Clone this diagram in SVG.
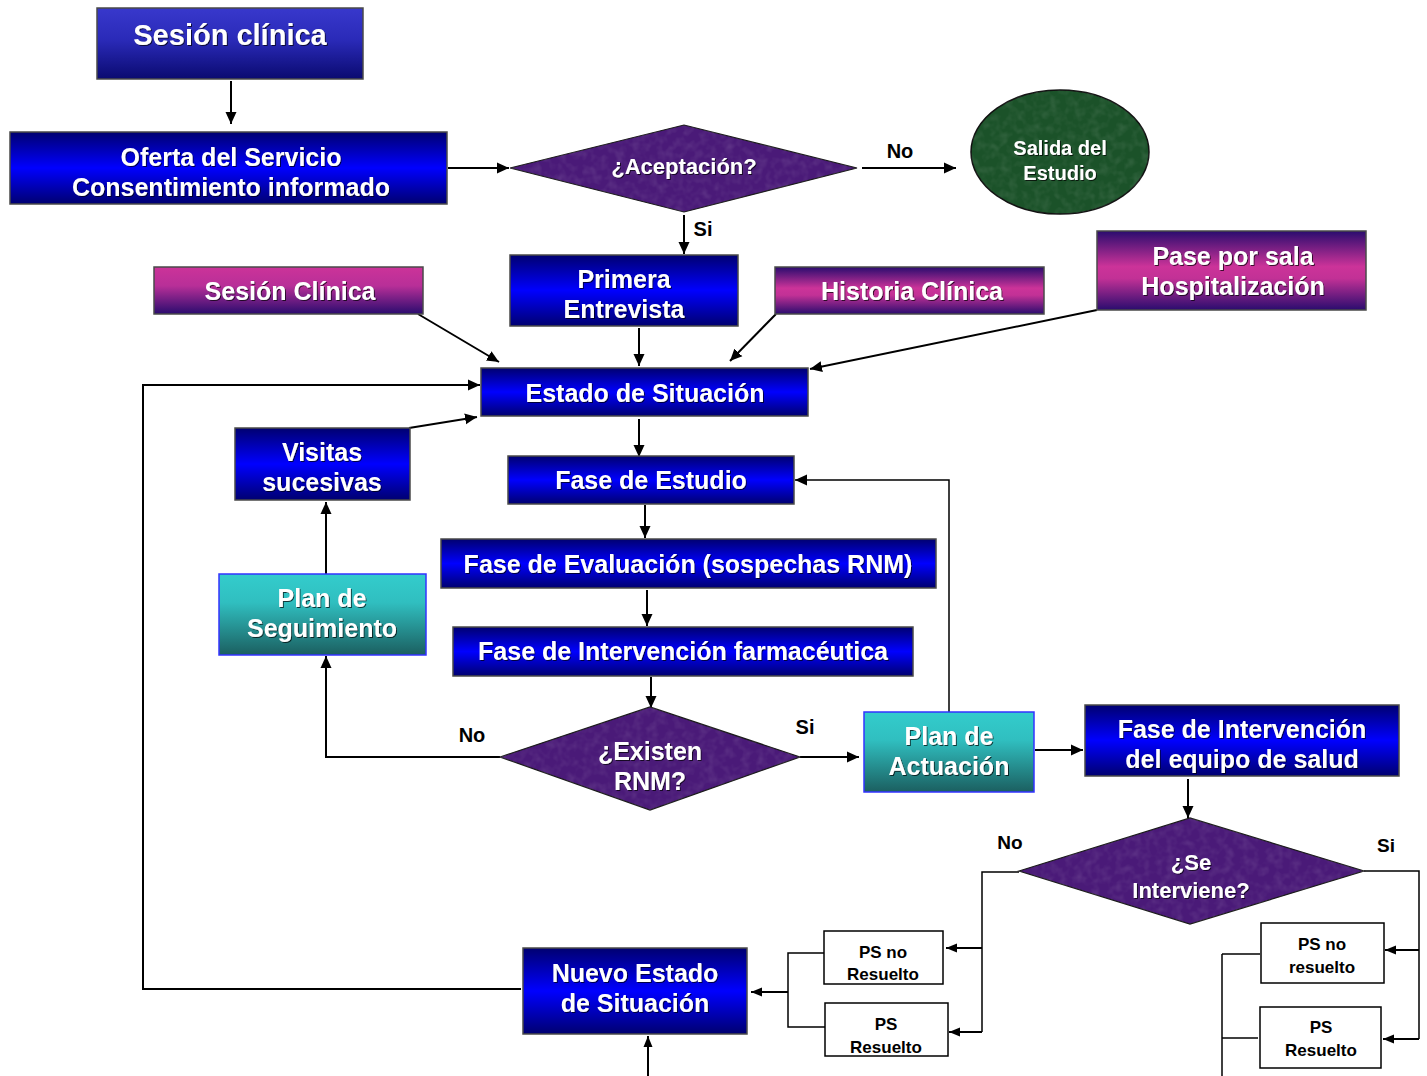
<svg xmlns="http://www.w3.org/2000/svg" width="1427" height="1076" viewBox="0 0 1427 1076">
<defs>
  <linearGradient id="gTop" x1="0" y1="0" x2="0" y2="1">
    <stop offset="0" stop-color="#3838cc"/><stop offset="0.45" stop-color="#2a2ab8"/><stop offset="1" stop-color="#0a0a70"/>
  </linearGradient>
  <linearGradient id="gBlue" x1="0" y1="0" x2="0" y2="1">
    <stop offset="0" stop-color="#000070"/><stop offset="0.5" stop-color="#0000ff"/><stop offset="1" stop-color="#000070"/>
  </linearGradient>
  <linearGradient id="gMag" x1="0" y1="0" x2="0" y2="1">
    <stop offset="0" stop-color="#2a0c6e"/><stop offset="0.45" stop-color="#cc3399"/><stop offset="0.6" stop-color="#c23196"/><stop offset="1" stop-color="#2a0c6e"/>
  </linearGradient>
  <linearGradient id="gMag2" x1="0" y1="0" x2="0" y2="1">
    <stop offset="0" stop-color="#cc3399"/><stop offset="0.4" stop-color="#b82f98"/><stop offset="1" stop-color="#2a0c6e"/>
  </linearGradient>
  <linearGradient id="gTeal" x1="0" y1="0" x2="0" y2="1">
    <stop offset="0" stop-color="#33cccc"/><stop offset="0.35" stop-color="#30bfc0"/><stop offset="1" stop-color="#1b5f60"/>
  </linearGradient>
  <filter id="tex" x="-5%" y="-5%" width="110%" height="110%" color-interpolation-filters="sRGB">
    <feTurbulence type="fractalNoise" baseFrequency="0.12" numOctaves="2" seed="4" result="noise"/>
    <feColorMatrix in="noise" type="matrix" values="0 0 0 0 1  0 0 0 0 1  0 0 0 0 1  0.2 0 0 0 -0.08" result="light"/>
    <feComposite in="light" in2="SourceGraphic" operator="in" result="clip"/>
    <feMerge><feMergeNode in="SourceGraphic"/><feMergeNode in="clip"/></feMerge>
  </filter>
  <filter id="ts" x="-5%" y="-20%" width="110%" height="140%">
    <feDropShadow dx="1" dy="1" stdDeviation="0.6" flood-color="#000" flood-opacity="0.7"/>
  </filter>
  <marker id="ah" markerUnits="userSpaceOnUse" markerWidth="13" markerHeight="13" refX="12" refY="6.5" orient="auto">
    <path d="M0,1 L12,6.5 L0,12 z" fill="#000"/>
  </marker>
  <marker id="ahs" markerUnits="userSpaceOnUse" markerWidth="12" markerHeight="12" refX="11" refY="5.5" orient="auto">
    <path d="M0,1 L11,5.5 L0,10 z" fill="#000"/>
  </marker>
</defs>
<style>
  text { font-family: "Liberation Sans", Arial, sans-serif; font-weight: bold; text-anchor: middle; }
  .w { fill: #ffffff; filter: url(#ts); }
  .b { fill: #000000; }
  .box { stroke: #4a4a4a; stroke-width: 1.5; }
  .blue { fill: url(#gBlue); }
  .mag { fill: url(#gMag); }
  .teal { fill: url(#gTeal); stroke: #3333ff; stroke-width: 1.5; }
  .dia { fill: #4a1a78; stroke: #1a1a1a; stroke-width: 1.2; filter: url(#tex); }
  .ps { fill: #ffffff; stroke: #000; stroke-width: 1.5; }
  .c { fill: none; stroke: #000; stroke-width: 2; }
  .t { fill: none; stroke: #000; stroke-width: 1.5; }
</style>
<rect width="1427" height="1076" fill="#ffffff"/>

<g id="connectors">
  <line class="c" x1="231" y1="81" x2="231" y2="124" marker-end="url(#ah)"/>
  <line class="c" x1="448" y1="168" x2="509" y2="168" marker-end="url(#ah)"/>
  <line class="c" x1="862" y1="168" x2="956" y2="168" marker-end="url(#ah)"/>
  <line class="c" x1="684" y1="215" x2="684" y2="254" marker-end="url(#ah)"/>
  <line class="c" x1="418" y1="314" x2="499" y2="362" marker-end="url(#ah)"/>
  <line class="c" x1="639" y1="328" x2="639" y2="366" marker-end="url(#ah)"/>
  <line class="c" x1="776" y1="314" x2="730" y2="361" marker-end="url(#ah)"/>
  <line class="c" x1="1097" y1="310" x2="810" y2="369" marker-end="url(#ah)"/>
  <polyline class="c" points="521,989 143,989 143,385 480,385" marker-end="url(#ah)"/>
  <line class="c" x1="409" y1="428" x2="477" y2="417" marker-end="url(#ah)"/>
  <line class="c" x1="639" y1="419" x2="639" y2="457" marker-end="url(#ah)"/>
  <line class="c" x1="645" y1="505" x2="645" y2="538" marker-end="url(#ah)"/>
  <line class="c" x1="647" y1="590" x2="647" y2="626" marker-end="url(#ah)"/>
  <line class="c" x1="651" y1="677" x2="651" y2="708" marker-end="url(#ah)"/>
  <polyline class="c" points="500,757 326,757 326,656" marker-end="url(#ah)"/>
  <line class="c" x1="326" y1="574" x2="326" y2="502" marker-end="url(#ah)"/>
  <line class="c" x1="800" y1="757" x2="859" y2="757" marker-end="url(#ah)"/>
  <polyline class="t" points="949,712 949,480 795,480" marker-end="url(#ah)"/>
  <line class="c" x1="1035" y1="750" x2="1083" y2="750" marker-end="url(#ah)"/>
  <line class="c" x1="1188" y1="779" x2="1188" y2="818" marker-end="url(#ah)"/>
  <polyline class="t" points="1019,872 982,872 982,1032"/>
  <line class="c" x1="982" y1="948" x2="946" y2="948" marker-end="url(#ahs)"/>
  <line class="c" x1="982" y1="1032" x2="949" y2="1032" marker-end="url(#ahs)"/>
  <polyline class="t" points="825,953 788,953 788,1027 825,1027"/>
  <line class="c" x1="788" y1="992" x2="751" y2="992" marker-end="url(#ahs)"/>
  <line class="c" x1="648" y1="1076" x2="648" y2="1036" marker-end="url(#ahs)"/>
  <polyline class="t" points="1364,871 1419,871 1419,1039"/>
  <line class="c" x1="1419" y1="950" x2="1385" y2="950" marker-end="url(#ahs)"/>
  <line class="c" x1="1419" y1="1039" x2="1383" y2="1039" marker-end="url(#ahs)"/>
  <line class="t" x1="1260" y1="954" x2="1222" y2="954"/>
  <line class="t" x1="1222" y1="954" x2="1222" y2="1076"/>
  <line class="t" x1="1258" y1="1038" x2="1222" y2="1038"/>
  <text class="b" x="900" y="158" font-size="20">No</text>
  <text class="b" x="703" y="236" font-size="20">Si</text>
  <text class="b" x="472" y="742" font-size="20">No</text>
  <text class="b" x="805" y="734" font-size="20">Si</text>
  <text class="b" x="1010" y="849" font-size="19">No</text>
  <text class="b" x="1386" y="852" font-size="19">Si</text>
</g>

<g id="sesion-clinica-top">
  <rect class="box" x="97" y="8" width="266" height="71" fill="url(#gTop)"/>
  <text class="w" x="230" y="45" font-size="29">Sesión clínica</text>
</g>
<g id="oferta">
  <rect class="box blue" x="10" y="132" width="437" height="72"/>
  <text class="w" x="231" y="166" font-size="25">Oferta del Servicio</text>
  <text class="w" x="231" y="196" font-size="25">Consentimiento informado</text>
</g>
<g id="aceptacion">
  <polygon class="dia" points="510,168 684,125 857,168 684,212"/>
  <text class="w" x="684" y="174" font-size="22">¿Aceptación?</text>
</g>
<g id="salida">
  <ellipse cx="1060" cy="152" rx="89" ry="62" fill="#1b5229" stroke="#111" stroke-width="1.5" filter="url(#tex)"/>
  <text class="w" x="1060" y="155" font-size="20">Salida del</text>
  <text class="w" x="1060" y="180" font-size="20">Estudio</text>
</g>
<g id="primera">
  <rect class="box blue" x="510" y="255" width="228" height="71"/>
  <text class="w" x="624" y="288" font-size="25">Primera</text>
  <text class="w" x="624" y="318" font-size="25">Entrevista</text>
</g>
<g id="sesion-clinica">
  <rect class="box" x="154" y="267" width="269" height="47" fill="url(#gMag2)"/>
  <text class="w" x="290" y="300" font-size="25">Sesión Clínica</text>
</g>
<g id="historia">
  <rect class="box mag" x="775" y="267" width="269" height="47"/>
  <text class="w" x="912" y="300" font-size="25">Historia Clínica</text>
</g>
<g id="pase">
  <rect class="box mag" x="1097" y="231" width="269" height="79"/>
  <text class="w" x="1233" y="265" font-size="25">Pase por sala</text>
  <text class="w" x="1233" y="295" font-size="25">Hospitalización</text>
</g>
<g id="estado">
  <rect class="box blue" x="481" y="368" width="327" height="48"/>
  <text class="w" x="645" y="402" font-size="25">Estado de Situación</text>
</g>
<g id="visitas">
  <rect class="box blue" x="235" y="428" width="175" height="72"/>
  <text class="w" x="322" y="461" font-size="25">Visitas</text>
  <text class="w" x="322" y="491" font-size="25">sucesivas</text>
</g>
<g id="estudio">
  <rect class="box blue" x="508" y="456" width="286" height="48"/>
  <text class="w" x="651" y="489" font-size="25">Fase de Estudio</text>
</g>
<g id="evaluacion">
  <rect class="box blue" x="441" y="539" width="495" height="49"/>
  <text class="w" x="688" y="573" font-size="25">Fase de Evaluación (sospechas RNM)</text>
</g>
<g id="intervencion">
  <rect class="box blue" x="453" y="627" width="460" height="49"/>
  <text class="w" x="683" y="660" font-size="25">Fase de Intervención farmacéutica</text>
</g>
<g id="existen">
  <polygon class="dia" points="500,757 650,707 800,757 650,810"/>
  <text class="w" x="650" y="760" font-size="25">¿Existen</text>
  <text class="w" x="650" y="790" font-size="25">RNM?</text>
</g>
<g id="seguimiento">
  <rect class="teal" x="219" y="574" width="207" height="81"/>
  <text class="w" x="322" y="607" font-size="25">Plan de</text>
  <text class="w" x="322" y="637" font-size="25">Seguimiento</text>
</g>
<g id="actuacion">
  <rect class="teal" x="864" y="712" width="170" height="80"/>
  <text class="w" x="949" y="745" font-size="25">Plan de</text>
  <text class="w" x="949" y="775" font-size="25">Actuación</text>
</g>
<g id="equipo">
  <rect class="box blue" x="1085" y="705" width="314" height="71"/>
  <text class="w" x="1242" y="738" font-size="25">Fase de Intervención</text>
  <text class="w" x="1242" y="768" font-size="25">del equipo de salud</text>
</g>
<g id="interviene">
  <polygon class="dia" points="1019,871 1190,818 1364,871 1190,924"/>
  <text class="w" x="1191" y="870" font-size="22">¿Se</text>
  <text class="w" x="1191" y="898" font-size="22">Interviene?</text>
</g>
<g id="ps-no-resuelto-1">
  <rect class="ps" x="824" y="931" width="119" height="53"/>
  <text class="b" x="883" y="958" font-size="17">PS no</text>
  <text class="b" x="883" y="980" font-size="17">Resuelto</text>
</g>
<g id="ps-resuelto-1">
  <rect class="ps" x="825" y="1003" width="123" height="53"/>
  <text class="b" x="886" y="1030" font-size="17">PS</text>
  <text class="b" x="886" y="1053" font-size="17">Resuelto</text>
</g>
<g id="nuevo-estado">
  <rect class="box blue" x="523" y="948" width="224" height="86"/>
  <text class="w" x="635" y="982" font-size="25">Nuevo Estado</text>
  <text class="w" x="635" y="1012" font-size="25">de Situación</text>
</g>
<g id="ps-no-resuelto-2">
  <rect class="ps" x="1261" y="923" width="123" height="60"/>
  <text class="b" x="1322" y="950" font-size="17">PS no</text>
  <text class="b" x="1322" y="973" font-size="17">resuelto</text>
</g>
<g id="ps-resuelto-2">
  <rect class="ps" x="1260" y="1007" width="121" height="61"/>
  <text class="b" x="1321" y="1033" font-size="17">PS</text>
  <text class="b" x="1321" y="1056" font-size="17">Resuelto</text>
</g>
</svg>
